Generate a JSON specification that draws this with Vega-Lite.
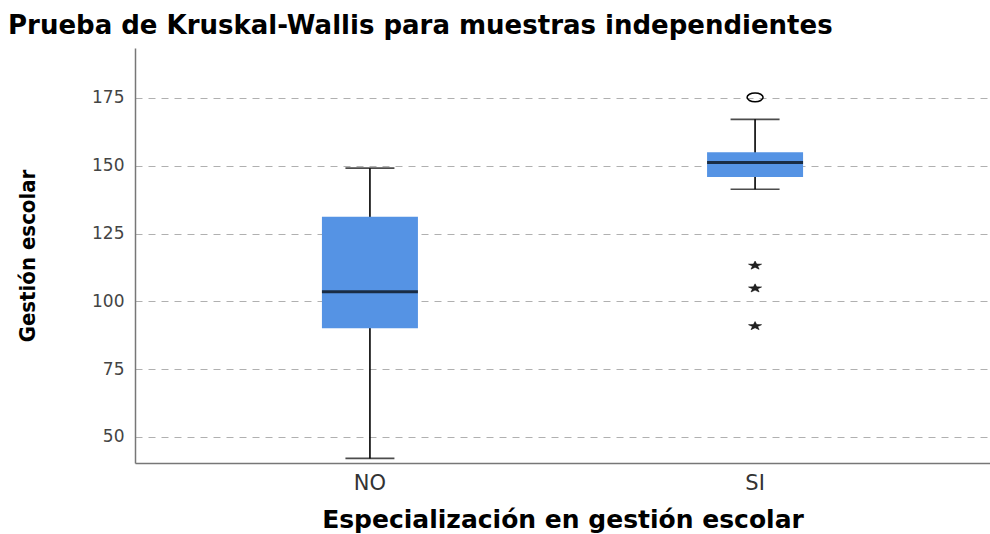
{
  "$schema": "https://vega.github.io/schema/vega-lite/v6.json",
  "autosize": "none",
  "padding": {"left": 135, "top": 48, "right": 0, "bottom": 71},
  "width": 855,
  "height": 415,
  "background": "white",
  "config": {
    "view": {"stroke": null},
    "font": "DejaVu Sans"
  },
  "title": {
    "text": "Prueba de Kruskal-Wallis para muestras independientes",
    "anchor": "start",
    "frame": "group",
    "dx": -127,
    "offset": 9,
    "font": "DejaVu Sans",
    "fontSize": 26,
    "fontWeight": "bold",
    "color": "#000"
  },
  "datasets": {
    "boxes": [
      {"grupo": "NO", "lower": 42.1, "q1": 90.1, "median": 103.5, "q3": 131.2, "upper": 149.1},
      {"grupo": "SI", "lower": 141.3, "q1": 145.8, "median": 151.2, "q3": 155.0, "upper": 167.1}
    ],
    "atipicos": [
      {"grupo": "SI", "valor": 175.2}
    ],
    "extremos": [
      {"grupo": "SI", "valor": 113.2},
      {"grupo": "SI", "valor": 104.8},
      {"grupo": "SI", "valor": 90.9}
    ]
  },
  "encoding": {
    "x": {
      "field": "grupo",
      "type": "nominal",
      "scale": {"type": "band", "domain": ["NO", "SI"], "paddingInner": 0, "paddingOuter": 0.11},
      "axis": {
        "title": "Especialización en gestión escolar",
        "labelAngle": 0,
        "ticks": false,
        "grid": false,
        "domainColor": "#777",
        "domainWidth": 1.5,
        "labelFont": "DejaVu Sans",
        "labelFontSize": 21,
        "labelColor": "#333",
        "labelPadding": 9,
        "titleFont": "DejaVu Sans",
        "titleFontSize": 25,
        "titleFontWeight": "bold",
        "titleColor": "#000",
        "titlePadding": 14
      }
    }
  },
  "layer": [
    {
      "data": {"name": "boxes"},
      "mark": {"type": "rule", "color": "#000", "strokeWidth": 1.6},
      "encoding": {
        "y": {
          "field": "lower",
          "type": "quantitative",
          "scale": {"domain": [40.4, 193.4], "nice": false, "zero": false},
          "axis": {
            "values": [50, 75, 100, 125, 150, 175],
            "title": "Gestión escolar",
            "grid": true,
            "gridDash": [7, 6],
            "gridColor": "#b0b0b0",
            "gridWidth": 1,
            "ticks": false,
            "domainColor": "#777",
            "domainWidth": 1.5,
            "labelFont": "DejaVu Sans",
            "labelFontSize": 17,
            "labelColor": "#444",
            "labelPadding": 11,
            "titleFont": "DejaVu Sans Condensed, Liberation Sans Narrow, Liberation Sans",
            "titleFontSize": 22,
            "titleFontWeight": "bold",
            "titleColor": "#000",
            "titlePadding": 52
          }
        },
        "y2": {"field": "upper"}
      }
    },
    {
      "data": {"name": "boxes"},
      "mark": {"type": "tick", "orient": "horizontal", "color": "#000", "size": 49, "thickness": 1.6},
      "encoding": {"y": {"field": "lower", "type": "quantitative"}}
    },
    {
      "data": {"name": "boxes"},
      "mark": {"type": "tick", "orient": "horizontal", "color": "#000", "size": 49, "thickness": 1.6},
      "encoding": {"y": {"field": "upper", "type": "quantitative"}}
    },
    {
      "data": {"name": "boxes"},
      "mark": {"type": "bar", "color": "#5593E4", "size": 96},
      "encoding": {
        "y": {"field": "q1", "type": "quantitative"},
        "y2": {"field": "q3"}
      }
    },
    {
      "data": {"name": "boxes"},
      "mark": {"type": "tick", "orient": "horizontal", "color": "#000", "size": 96, "thickness": 3},
      "encoding": {"y": {"field": "median", "type": "quantitative"}}
    },
    {
      "data": {"name": "atipicos"},
      "mark": {
        "type": "point",
        "shape": "M-1,0A1,0.55 0 1,0 1,0A1,0.55 0 1,0 -1,0Z",
        "filled": false,
        "stroke": "#000",
        "strokeWidth": 1.5,
        "size": 256,
        "opacity": 1
      },
      "encoding": {"y": {"field": "valor", "type": "quantitative"}}
    },
    {
      "data": {"name": "extremos"},
      "mark": {
        "type": "point",
        "shape": "M0,-0.65L0.235,-0.21L0.951,-0.2L0.38,0.08L0.588,0.526L0,0.26L-0.588,0.526L-0.38,0.08L-0.951,-0.2L-0.235,-0.21Z",
        "filled": true,
        "fill": "#222",
        "stroke": "#000",
        "strokeWidth": 0.5,
        "size": 190,
        "opacity": 1
      },
      "encoding": {"y": {"field": "valor", "type": "quantitative"}}
    }
  ]
}
